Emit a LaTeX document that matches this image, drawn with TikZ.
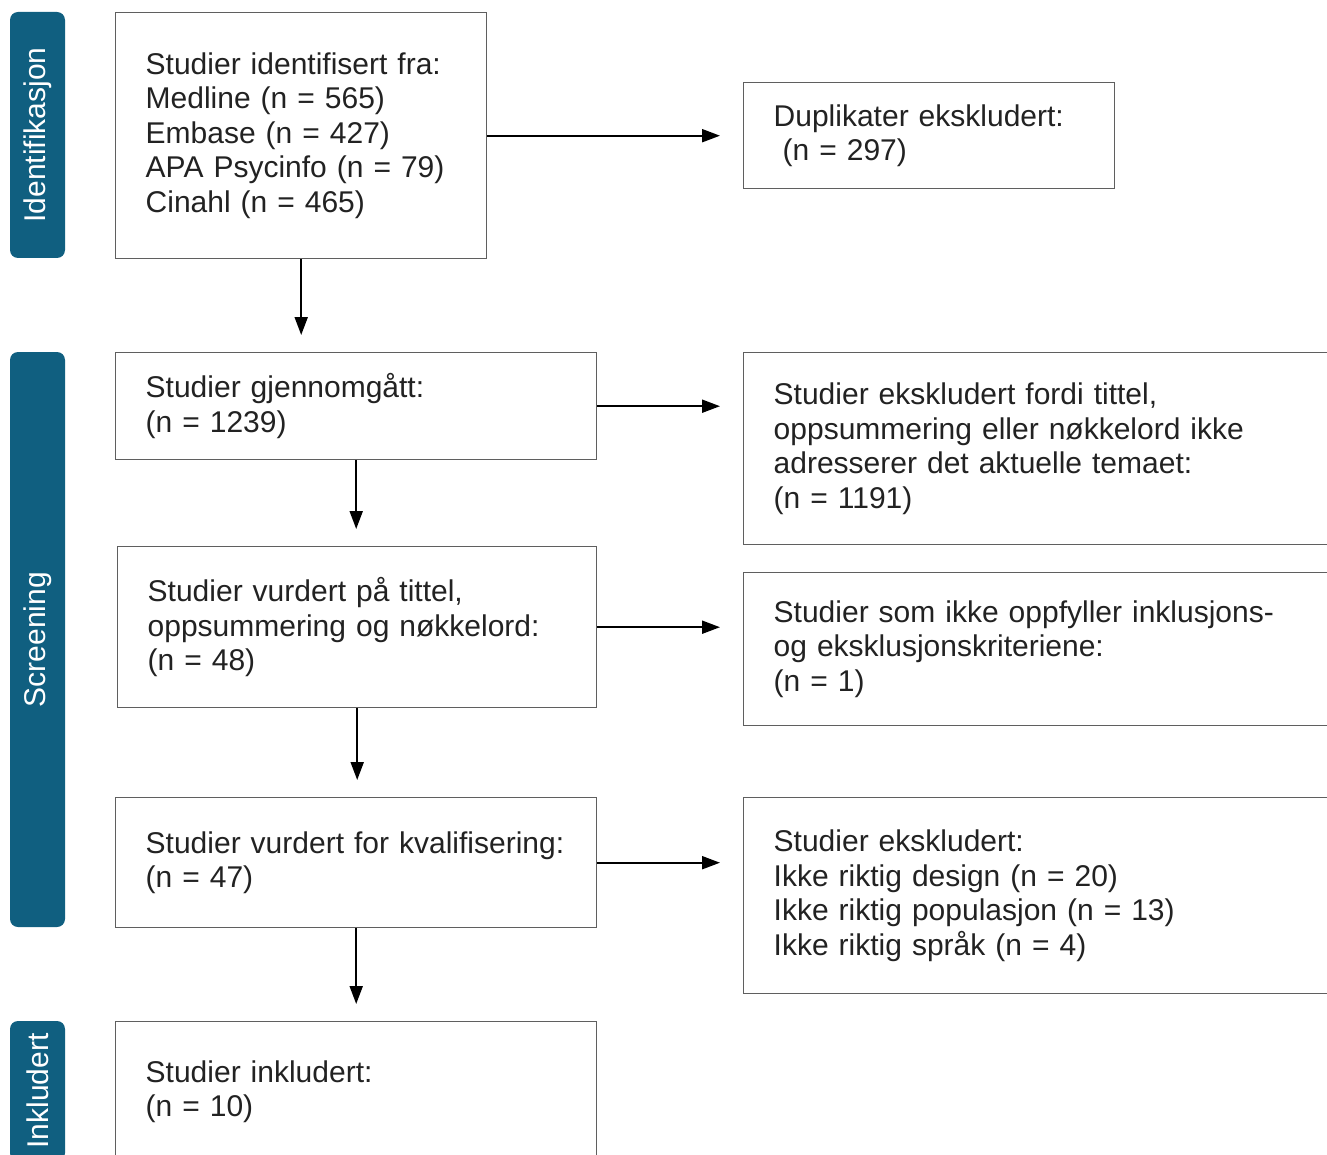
\documentclass[tikz,border=0pt]{standalone}
\usepackage{fontspec}
\setmainfont{Liberation Sans}
\usetikzlibrary{arrows.meta}
\definecolor{fasebla}{RGB}{16,95,128}
\definecolor{tekst}{RGB}{34,34,34}
\definecolor{ramme}{RGB}{95,95,95}
\newcommand{\kassefont}{\fontsize{15pt}{17.25pt}\selectfont\hyphenpenalty=10000 \exhyphenpenalty=10000 \relax}
\begin{document}
\begin{tikzpicture}[x=0.5pt, y=-0.5pt, >={Triangle[length=9pt,width=6.5pt]},
  kasse/.style={draw=ramme, line width=0.7pt, anchor=north west, align=left, inner xsep=15pt, inner ysep=0pt, text=tekst, font=\kassefont},
  fase/.style={fill=fasebla, rounded corners=4pt, rotate=90, text=white, minimum height=27.5pt, inner sep=0pt, font=\fontsize{15pt}{17.25pt}\selectfont},
  pil/.style={->, line width=1pt, shorten >=8.5pt}]
\useasboundingbox (0,0) rectangle (1327,1155);
\clip (0,0) rectangle (1327,1155);
% faser
\node[fase, minimum width=123pt]   (idfase)  at (37.5,135)   {Identifikasjon};
\node[fase, minimum width=287.5pt] (scrfase) at (37.5,639.5) {Screening};
\node[fase, minimum width=70pt]    (inkfase) at (37.5,1091)  {Inkludert};
% venstre kolonne
\node[kasse, text width=155.5pt, minimum height=123pt] (ident) at (115,12) {Studier identifisert fra:\\Medline (n = 565)\\Embase (n = 427)\\APA Psycinfo (n = 79)\\Cinahl (n = 465)};
\node[kasse, text width=210.5pt, minimum height=53.5pt] (gjennom) at (115,352) {Studier gjennomgått:\\(n = 1239)};
\node[kasse, text width=209.5pt, minimum height=80.5pt] (vurdert) at (117,546) {Studier vurdert på tittel,\\oppsummering og nøkkelord:\\(n = 48)};
\node[kasse, text width=210.5pt, minimum height=65pt] (kval) at (115,797) {Studier vurdert for kvalifisering:\\(n = 47)};
\node[kasse, text width=210.5pt, minimum height=70pt] (inkl) at (115,1021) {Studier inkludert:\\(n = 10)};
% hoyre kolonne
\node[kasse, text width=155.5pt, minimum height=53pt] (dupl) at (743,82) {Duplikater ekskludert:\\\hspace*{4.5pt}(n = 297)};
\node[kasse, text width=268.5pt, minimum height=96pt] (ekskl1) at (743,352) {Studier ekskludert fordi tittel,\\oppsummering eller nøkkelord ikke\\adresserer det aktuelle temaet:\\(n = 1191)};
\node[kasse, text width=268.5pt, minimum height=76.5pt] (ekskl2) at (743,572) {Studier som ikke oppfyller inklusjons-\\og eksklusjonskriteriene:\\(n = 1)};
\node[kasse, text width=268.5pt, minimum height=98pt] (ekskl3) at (743,797) {Studier ekskludert:\\Ikke riktig design (n = 20)\\Ikke riktig populasjon (n = 13)\\Ikke riktig språk (n = 4)};
% piler
\draw[pil] (ident.south) -- (ident.south |- gjennom.north);
\draw[pil] (gjennom.south) -- (gjennom.south |- vurdert.north);
\draw[pil] (vurdert.south) -- (vurdert.south |- kval.north);
\draw[pil] (kval.south) -- (kval.south |- inkl.north);
\draw[pil, shorten >=11.5pt] (ident.east) -- (ident.east -| dupl.west);
\draw[pil, shorten >=11.5pt] (gjennom.east) -- (gjennom.east -| ekskl1.west);
\draw[pil, shorten >=11.5pt] (vurdert.east) -- (vurdert.east -| ekskl2.west);
\draw[pil, shorten >=11.5pt] (kval.east) -- (kval.east -| ekskl3.west);
\end{tikzpicture}
\end{document}
